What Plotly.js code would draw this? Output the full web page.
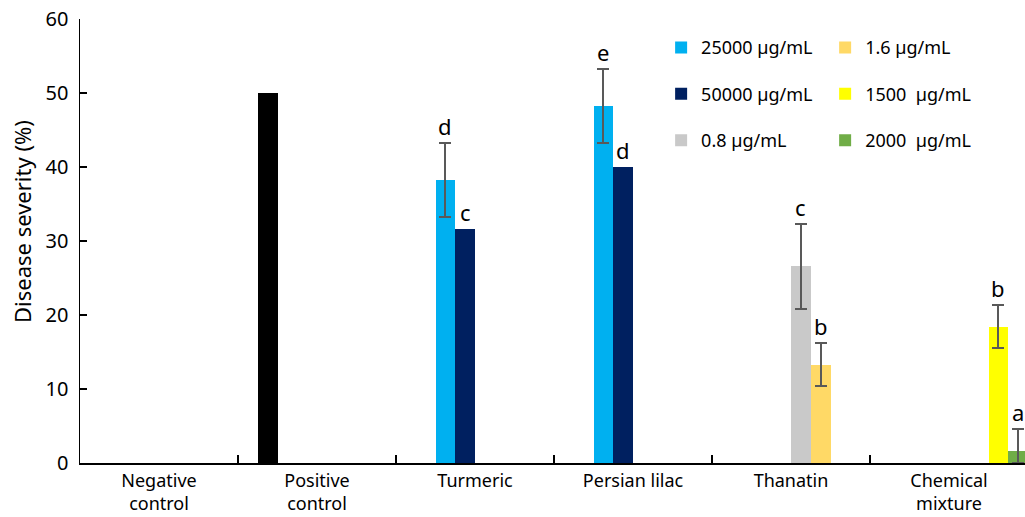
<!DOCTYPE html>
<html>
<head>
<meta charset="utf-8">
<script src="https://cdn.plot.ly/plotly-3.0.1.min.js"></script>
<style>html,body{margin:0;padding:0;overflow:hidden;background:#fff;}</style>
</head>
<body>
<div id="chart" style="width:1028px;height:517px;"></div>
<script>
// ---- data ----
const categories = ['Negative control', 'Positive control', 'Turmeric', 'Persian lilac', 'Thanatin', 'Chemical mixture'];
const tickLabels = ['Negative<br>control', 'Positive<br>control', 'Turmeric', 'Persian lilac', 'Thanatin', 'Chemical<br>mixture'];
const yTitle = 'Disease severity (%)';

const negCats = ['Negative control'];
const negVals = [0];

const posCats = ['Positive control'];
const posVals = [50];

const c25000Cats = ['Turmeric', 'Persian lilac'];
const c25000Vals = [38.3, 48.2];
const c25000Err = [5.0, 5.0];
const c25000Letters = ['d', 'e'];

const c50000Cats = ['Turmeric', 'Persian lilac'];
const c50000Vals = [31.6, 40.0];
const c50000Err = [0, 0];
const c50000Letters = ['c', 'd'];

const c08Cats = ['Thanatin'];
const c08Vals = [26.6];
const c08Err = [5.75];
const c08Letters = ['c'];

const c16Cats = ['Thanatin'];
const c16Vals = [13.3];
const c16Err = [2.9];
const c16Letters = ['b'];

const c1500Cats = ['Chemical mixture'];
const c1500Vals = [18.4];
const c1500Err = [2.9];
const c1500Letters = ['b'];

const c2000Cats = ['Chemical mixture'];
const c2000Vals = [1.6];
const c2000Err = [2.95];
const c2000Letters = ['a'];

// ---- styling ----
const FONT = 'Noto Sans, sans-serif';
const ERRC = '#595959';
const W = 1028, H = 517;
const M = {l: 80, r: 0, t: 19, b: 54};

const series = [
  {name: 'Negative control', cats: negCats, vals: negVals, err: null, letters: null, color: '#000000', legend: null},
  {name: 'Positive control', cats: posCats, vals: posVals, err: null, letters: null, color: '#000000', legend: null},
  {name: '25000 µg/mL', cats: c25000Cats, vals: c25000Vals, err: c25000Err, letters: c25000Letters, color: '#00B0F0', legend: 'legend'},
  {name: '50000 µg/mL', cats: c50000Cats, vals: c50000Vals, err: c50000Err, letters: c50000Letters, color: '#002060', legend: 'legend'},
  {name: '0.8 µg/mL', cats: c08Cats, vals: c08Vals, err: c08Err, letters: c08Letters, color: '#C9C9C9', legend: 'legend'},
  {name: '1.6 µg/mL', cats: c16Cats, vals: c16Vals, err: c16Err, letters: c16Letters, color: '#FFD966', legend: 'legend2'},
  {name: '1500  µg/mL', cats: c1500Cats, vals: c1500Vals, err: c1500Err, letters: c1500Letters, color: '#FFFF00', legend: 'legend2'},
  {name: '2000  µg/mL', cats: c2000Cats, vals: c2000Vals, err: c2000Err, letters: c2000Letters, color: '#70AD47', legend: 'legend2'}
];

const nSeries = series.length;
const slot = (W - M.l - M.r) / categories.length / nSeries;

const traces = [];
const annotations = [];
series.forEach((s, k) => {
  const hasErr = s.err && s.err.some(e => e > 0);
  const t = {
    type: 'bar',
    name: s.name,
    x: s.cats,
    y: s.vals,
    marker: {color: s.color, line: {width: 0}},
    showlegend: !!s.legend,
    legendgroup: s.name,
    hoverinfo: 'x+y+name'
  };
  if (s.legend) t.legend = s.legend;
  if (hasErr) {
    t.error_y = {
      type: 'data',
      array: s.err,
      arrayminus: s.err.map((e, i) => Math.min(e, s.vals[i])),
      visible: true,
      color: ERRC,
      thickness: 2,
      width: 6
    };
  }
  traces.push(t);
  if (s.letters) {
    s.letters.forEach((L, i) => {
      const top = s.vals[i] + (s.err ? s.err[i] : 0);
      annotations.push({
        x: s.cats[i], y: top, xref: 'x', yref: 'y',
        xshift: (k - (nSeries - 1) / 2) * slot,
        yshift: 0,
        yanchor: 'bottom', xanchor: 'center',
        text: L, showarrow: false,
        font: {family: FONT, size: 22, color: '#000'}
      });
    });
  }
});

// y-axis title (placed as a rotated annotation, slightly above the axis centre as in the original)
annotations.push({
  xref: 'paper', yref: 'paper',
  x: (22 - M.l) / (W - M.l - M.r), y: (H - M.b - 222) / (H - M.t - M.b),
  xanchor: 'center', yanchor: 'middle',
  text: yTitle, textangle: -90, showarrow: false,
  font: {family: FONT, size: 22, color: '#000'}
});

const legendCommon = {
  font: {family: FONT, size: 18, color: '#000'},
  bgcolor: 'rgba(0,0,0,0)',
  orientation: 'v',
  xanchor: 'left', yanchor: 'top',
  tracegroupgap: 20,
  itemclick: false, itemdoubleclick: false
};

const layout = {
  width: W, height: H,
  margin: M,
  paper_bgcolor: '#fff', plot_bgcolor: '#fff',
  barmode: 'group',
  bargap: 0, bargroupgap: 0,
  font: {family: FONT, size: 18, color: '#000'},
  xaxis: {
    type: 'category',
    categoryorder: 'array', categoryarray: categories,
    tickvals: categories, ticktext: tickLabels,
    range: [-0.5, categories.length - 0.5],
    showline: true, linecolor: '#000', linewidth: 2,
    ticks: 'inside', tickson: 'boundaries', ticklen: 8, tickcolor: '#000', tickwidth: 1.5,
    showgrid: false, zeroline: false,
    tickfont: {family: FONT, size: 18, color: '#000'},
    fixedrange: true
  },
  yaxis: {
    range: [0, 60], dtick: 10, tick0: 0,
    showline: true, linecolor: '#000', linewidth: 1.5,
    ticks: 'inside', ticklen: 7, tickcolor: '#000', tickwidth: 1.5,
    showgrid: false, zeroline: false,
    ticklabelstandoff: 6,
    tickfont: {family: FONT, size: 20, color: '#000'},
    fixedrange: true
  },
  legend: Object.assign({}, legendCommon, {x: 0.613, y: 0.977}),
  legend2: Object.assign({}, legendCommon, {x: 0.786, y: 0.977}),
  annotations: annotations,
  showlegend: true
};

Plotly.newPlot('chart', traces, layout, {displayModeBar: false, staticPlot: true});
</script>
</body>
</html>
